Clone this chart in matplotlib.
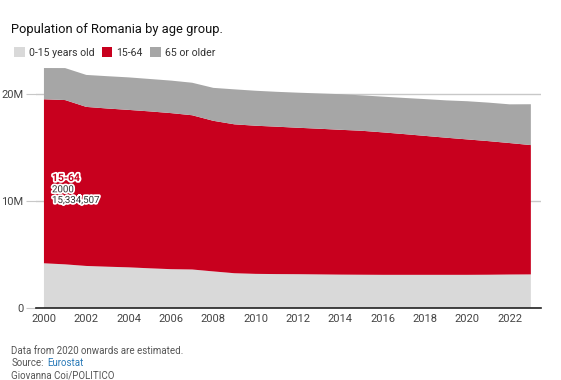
import matplotlib
matplotlib.use('Agg')
import numpy as np
from matplotlib import pyplot as plt
from matplotlib import patheffects as pe

plt.rcParams['font.family'] = ['Roboto', 'DejaVu Sans']

# Population by age group, in millions
years = np.arange(2000, 2024)
age_0_15 = [4.18, 4.08, 3.93, 3.86, 3.80, 3.71, 3.63, 3.60, 3.42, 3.25, 3.19, 3.17,
            3.16, 3.14, 3.12, 3.11, 3.10, 3.10, 3.10, 3.10, 3.10, 3.11, 3.13, 3.14]
age_15_64 = [15.334507, 15.36, 14.87, 14.79, 14.72, 14.67, 14.59, 14.42, 14.08, 13.92,
             13.85, 13.78, 13.69, 13.62, 13.54, 13.46, 13.32, 13.16, 12.99, 12.82,
             12.66, 12.49, 12.29, 12.09]
age_65 = [2.92, 2.99, 2.99, 3.02, 3.04, 3.03, 3.04, 3.04, 3.08, 3.27, 3.27, 3.26,
          3.28, 3.30, 3.33, 3.31, 3.34, 3.38, 3.44, 3.49, 3.57, 3.60, 3.62, 3.82]
labels = ['0-15 years old', '15-64', '65 or older']
colors = ['#d9d9d9', '#c8001e', '#a6a6a6']

fig = plt.figure(figsize=(5.61, 3.80), dpi=100)
ax = fig.add_axes([0.064, 0.1895, 0.900, 0.6474])

ax.stackplot(years, age_0_15, age_15_64, age_65, colors=colors, labels=labels,
             zorder=2)

ax.set_xlim(1999.62, 2023.47)
ax.set_ylim(0, 23)
ax.set_yticks([0, 10, 20])
ax.set_yticklabels(['0', '10M', '20M'])
ax.set_xticks(range(2000, 2023, 2))
ax.grid(axis='y', color='#c8c8c8', lw=1, zorder=0)
for s in ['top', 'right', 'left']:
    ax.spines[s].set_visible(False)
ax.spines['bottom'].set_color('#222222')
ax.spines['bottom'].set_linewidth(1.2)
ax.spines['bottom'].set_zorder(3)
ax.tick_params(axis='y', length=7, color='#c8c8c8', labelsize=8, labelcolor='#444444', pad=2)
ax.tick_params(axis='x', length=0, labelsize=8, labelcolor='#444444', pad=4)

# label of the first value
white = [pe.withStroke(linewidth=2.5, foreground='white')]
ax.text(years[0] + 0.38, 12.15, '15-64', fontsize=7.5, fontweight='bold', color='#c8001e',
        va='center', path_effects=white, zorder=4)
ax.text(years[0] + 0.38, 11.1, str(years[0]), fontsize=7, color='#333333',
        va='center', path_effects=white, zorder=4)
ax.text(years[0] + 0.38, 10.1, f'{round(age_15_64[0] * 1e6):,}', fontsize=7,
        color='#333333', va='center', path_effects=white, zorder=4)

fig.text(0.02, 0.923, 'Population of Romania by age group.', fontsize=9.3, color='#111111',
         va='center')
fig.legend(loc='center left', bbox_to_anchor=(0.008, 0.862), ncol=3, frameon=False,
           fontsize=7.6, handlelength=1.0, handleheight=1.0, handletextpad=0.4,
           columnspacing=0.7, labelcolor='#333333')

fig.text(0.02, 0.076, 'Data from 2020 onwards are estimated.', fontsize=7, color='#555555',
         va='center')
src = fig.text(0.02, 0.044, 'Source:', fontsize=7, color='#555555', va='center')
fig.canvas.draw()
bb = src.get_window_extent().transformed(fig.transFigure.inverted())
fig.text(bb.x1 + 0.006, 0.044, 'Eurostat', fontsize=7, color='#2a7ab8', va='center')
fig.text(0.02, 0.012, 'Giovanna Coi/POLITICO', fontsize=7, color='#555555', va='center')

plt.savefig('out.png', dpi=100)
